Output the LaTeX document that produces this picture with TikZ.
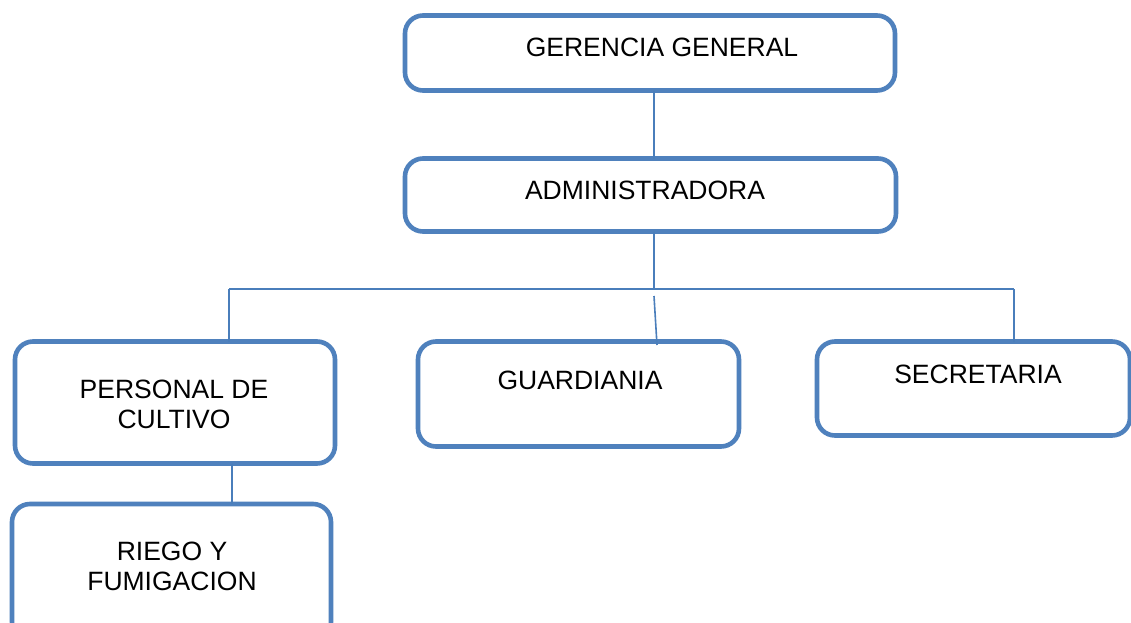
\documentclass[tikz,border=0pt]{standalone}
\usepackage{fontspec}
\setmainfont{Liberation Sans}
\definecolor{boxblue}{HTML}{4F81BD}
\definecolor{lineblue}{HTML}{4A7EBB}
\begin{document}
\begin{tikzpicture}[x=0.5pt,y=-0.5pt,
  box/.style={draw=boxblue, line width=2.3pt, rounded corners=9pt, fill=white, inner sep=0pt, outer sep=0pt},
  lbl/.style={font=\fontsize{13.25}{15}\selectfont, text=black, align=center, inner sep=0pt},
  conn/.style={draw=lineblue, line width=0.8pt}]
\clip (0,0) rectangle (1131,622);
\fill[white] (0,0) rectangle (1131,622);
% boxes
\node[box, minimum width=245pt, minimum height=37.5pt] (ger) at (650,53) {};
\node[box, minimum width=245.5pt, minimum height=36.5pt] (adm) at (650.5,195) {};
\node[box, minimum width=160pt, minimum height=61pt] (per) at (175,402.5) {};
\node[box, minimum width=159.5pt, minimum height=68pt] (rie) at (171.5,572) {};
\node[box, minimum width=160.5pt, minimum height=52.5pt] (gua) at (578.5,394) {};
\node[box, minimum width=156.5pt, minimum height=47pt] (sec) at (973.5,388.5) {};
% labels
\node[lbl] (tger) at (662,47) {GERENCIA GENERAL};
\node[lbl] (tadm) at (645,190) {ADMINISTRADORA};
\node[lbl] (tper) at (174,404) {PERSONAL DE\\CULTIVO};
\node[lbl] (trie) at (172,566) {RIEGO Y\\FUMIGACION};
\node[lbl] (tgua) at (580,380) {GUARDIANIA};
\node[lbl] (tsec) at (978,374) {SECRETARIA};
% connector points
\coordinate (j) at (654,289);
\coordinate (L) at (229,289);
\coordinate (R) at (1014,289);
\coordinate (g1) at (654,296);
\coordinate (g2) at (657,345);
\coordinate (k) at (232,480);
% connectors
\draw[conn] (ger.south -| j) -- (adm.north -| j);
\draw[conn] (adm.south -| j) -- (j);
\draw[conn] (L) -- (R);
\draw[conn] (L) -- (per.north -| L);
\draw[conn] (g1) -- (g2);
\draw[conn] (R) -- (sec.north -| R);
\draw[conn] (per.south -| k) -- (rie.north -| k);
\end{tikzpicture}
\end{document}
